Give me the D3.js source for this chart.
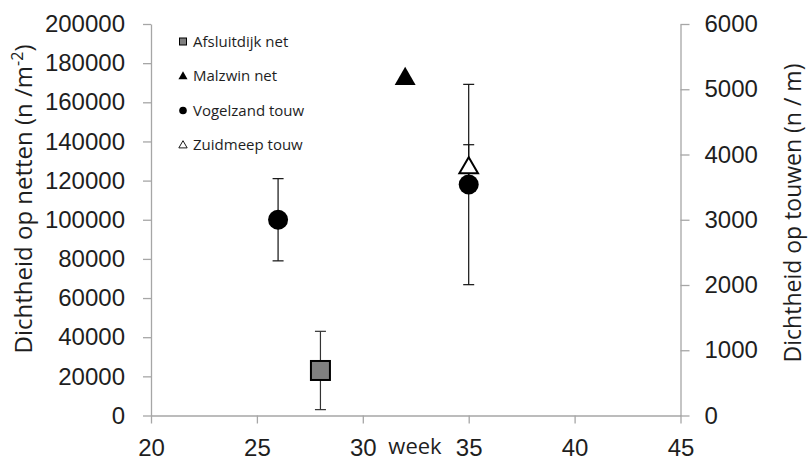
<!DOCTYPE html>
<html>
<head>
<meta charset="utf-8">
<script src="https://cdn.jsdelivr.net/npm/d3@7"></script>
<style>
    body { margin: 0; background: #fff; }
    svg { display: block; font-family: "Open Sans", sans-serif; }
</style>
</head>
<body>
<svg id="chart"></svg>
<script>
    // week ticks and the two y-axes
    const weekTicks = [20, 25, 30, 35, 40, 45];
    const netTicks = [0, 20000, 40000, 60000, 80000, 100000, 120000, 140000, 160000, 180000, 200000];
    const ropeTicks = [0, 1000, 2000, 3000, 4000, 5000, 6000];

    // Afsluitdijk net (left axis)
    const afsluitdijkWeeks = [28];
    const afsluitdijkValues = [23000];
    const afsluitdijkErrors = [20000];

    // Malzwin net (left axis)
    const malzwinWeeks = [32];
    const malzwinValues = [172500];

    // Vogelzand touw (right axis)
    const vogelzandWeeks = [26, 35];
    const vogelzandValues = [3000, 3540];
    const vogelzandErrors = [630, 1535];

    // Zuidmeep touw (right axis)
    const zuidmeepWeeks = [35];
    const zuidmeepValues = [3810];
    const zuidmeepErrors = [340];

    const legendLabels = ["Afsluitdijk net", "Malzwin net", "Vogelzand touw", "Zuidmeep touw"];

    const width = 808, height = 462;
    const margin = {top: 24, right: 127.5, bottom: 46.5, left: 151};
    const axisColor = "#a6a6a6";
    const textColor = "#1e1e1e";

    const svg = d3.select("#chart")
        .attr("width", width)
        .attr("height", height);

    const x = d3.scaleLinear().domain([20, 45]).range([margin.left, width - margin.right]);
    const yNet = d3.scaleLinear().domain([0, 200000]).range([height - margin.bottom, margin.top]);
    const yRope = d3.scaleLinear().domain([0, 6000]).range([height - margin.bottom, margin.top]);

    function styleAxis(g) {
        g.selectAll("path, line").attr("stroke", axisColor).attr("stroke-width", 1.3);
        g.selectAll("text").attr("fill", textColor).style("font-size", "24px");
    }

    svg.append("g")
        .attr("transform", `translate(0,${yNet(0)})`)
        .call(d3.axisBottom(x).tickValues(weekTicks).tickSize(8).tickSizeOuter(0).tickPadding(15))
        .call(styleAxis);

    svg.append("g")
        .attr("transform", `translate(${x(20)},0)`)
        .call(d3.axisLeft(yNet).tickValues(netTicks).tickFormat(d3.format("d")).tickSize(8).tickSizeOuter(0).tickPadding(18))
        .call(styleAxis);

    svg.append("g")
        .attr("transform", `translate(${x(45)},0)`)
        .call(d3.axisRight(yRope).tickValues(ropeTicks).tickFormat(d3.format("d")).tickSize(9).tickSizeOuter(0).tickPadding(15))
        .call(styleAxis);

    // axis titles
    const leftTitle = svg.append("text")
        .attr("transform", "translate(32,199) rotate(-90)")
        .attr("text-anchor", "middle")
        .attr("fill", textColor)
        .style("font-size", "24px");
    leftTitle.append("tspan").text("Dichtheid op netten (n /m");
    leftTitle.append("tspan").attr("dy", -9).style("font-size", "16px").text("-2");
    leftTitle.append("tspan").attr("dy", 9).text(")");

    svg.append("text")
        .attr("transform", "translate(801,213) rotate(-90)")
        .attr("text-anchor", "middle")
        .attr("fill", textColor)
        .style("font-size", "23px")
        .text("Dichtheid op touwen (n / m)");

    svg.append("text")
        .attr("x", 415)
        .attr("y", 454)
        .attr("text-anchor", "middle")
        .attr("fill", textColor)
        .style("font-size", "22px")
        .text("week");

    // error bars
    function errorBars(weeks, values, errors, yScale, color) {
        const g = svg.append("g").attr("stroke", color).attr("stroke-width", 1.2);
        weeks.forEach((w, i) => {
            const cx = x(w);
            const hi = yScale(values[i] + errors[i]);
            const lo = yScale(values[i] - errors[i]);
            g.append("line").attr("x1", cx).attr("x2", cx).attr("y1", hi).attr("y2", lo);
            g.append("line").attr("x1", cx - 5.5).attr("x2", cx + 5.5).attr("y1", hi).attr("y2", hi);
            g.append("line").attr("x1", cx - 5.5).attr("x2", cx + 5.5).attr("y1", lo).attr("y2", lo);
        });
    }

    errorBars(afsluitdijkWeeks, afsluitdijkValues, afsluitdijkErrors, yNet, "#333");
    errorBars(vogelzandWeeks, vogelzandValues, vogelzandErrors, yRope, "#111");
    errorBars(zuidmeepWeeks, zuidmeepValues, zuidmeepErrors, yRope, "#111");

    const triangle = d3.symbol().type(d3.symbolTriangle);

    // markers
    svg.selectAll(".afsluitdijk")
        .data(afsluitdijkWeeks)
        .enter()
        .append("rect")
        .attr("x", (d) => x(d) - 9.5)
        .attr("y", (d, i) => yNet(afsluitdijkValues[i]) - 9.5)
        .attr("width", 19)
        .attr("height", 19)
        .attr("fill", "#808080")
        .attr("stroke", "#000")
        .attr("stroke-width", 2);

    svg.selectAll(".malzwin")
        .data(malzwinWeeks)
        .enter()
        .append("path")
        .attr("d", triangle.size(190)())
        .attr("transform", (d, i) => `translate(${x(d)},${yNet(malzwinValues[i]) + 1})`)
        .attr("fill", "#000");

    svg.selectAll(".vogelzand")
        .data(vogelzandWeeks)
        .enter()
        .append("circle")
        .attr("cx", (d) => x(d))
        .attr("cy", (d, i) => yRope(vogelzandValues[i]))
        .attr("r", 10)
        .attr("fill", "#000");

    svg.selectAll(".zuidmeep")
        .data(zuidmeepWeeks)
        .enter()
        .append("path")
        .attr("d", triangle.size(150)())
        .attr("transform", (d, i) => `translate(${x(d)},${yRope(zuidmeepValues[i]) + 1})`)
        .attr("fill", "#fff")
        .attr("stroke", "#000")
        .attr("stroke-width", 2);

    // legend
    const legend = svg.append("g").attr("transform", "translate(183,41.5)");
    const rowGap = 34.5;
    legendLabels.forEach((label, i) => {
        const row = legend.append("g").attr("transform", `translate(0,${i * rowGap})`);
        if (i === 0) {
            row.append("rect").attr("x", -3.5).attr("y", -3.5).attr("width", 7).attr("height", 7)
                .attr("fill", "#808080").attr("stroke", "#000").attr("stroke-width", 1);
        } else if (i === 1) {
            row.append("path").attr("d", triangle.size(36)()).attr("transform", "translate(0,0.5)").attr("fill", "#000");
        } else if (i === 2) {
            row.append("circle").attr("r", 3.8).attr("fill", "#000");
        } else {
            row.append("path").attr("d", triangle.size(30)()).attr("transform", "translate(0,0.5)")
                .attr("fill", "#fff").attr("stroke", "#000").attr("stroke-width", 0.9);
        }
        row.append("text")
            .attr("x", 10)
            .attr("y", 0)
            .attr("dy", "0.35em")
            .attr("fill", textColor)
            .style("font-size", "15px")
            .text(label);
    });
</script>
</body>
</html>
